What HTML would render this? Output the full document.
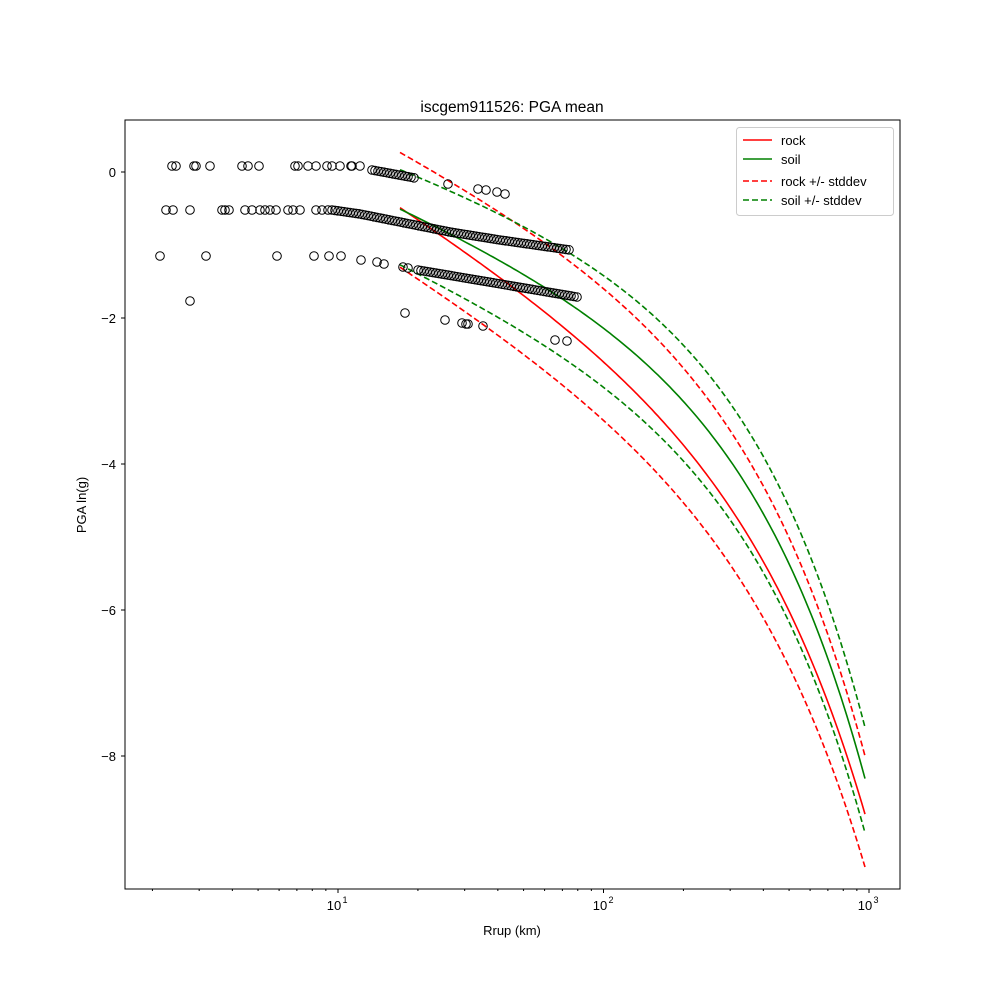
<!DOCTYPE html>
<html><head><meta charset="utf-8"><style>
body{margin:0;background:#fff}
svg{display:block;font-family:"Liberation Sans","DejaVu Sans",sans-serif}
</style></head><body>
<svg id="s" width="1000" height="1000" xmlns="http://www.w3.org/2000/svg">
<rect width="1000" height="1000" fill="#fff"/>
<g id="curves" fill="none" stroke-width="1.6"></g>
<g id="pts" fill="none" stroke="#000" stroke-width="1"></g>
<rect x="125" y="120" width="775" height="769" fill="none" stroke="#000" stroke-width="1"/>
<g id="ticks" stroke="#000"></g>
<g font-size="13" fill="#000">
<text x="512" y="112" text-anchor="middle" font-size="15.5">iscgem911526: PGA mean</text>
<text x="512" y="935" text-anchor="middle">Rrup (km)</text>
<text transform="translate(86,505) rotate(-90)" text-anchor="middle">PGA ln(g)</text>
<g text-anchor="end">
<text x="116" y="177">0</text>
<text x="116" y="323">−2</text>
<text x="116" y="469">−4</text>
<text x="116" y="615">−6</text>
<text x="116" y="761">−8</text>
</g>
<g text-anchor="middle">
<text x="334" y="910">10</text><text x="345" y="903" font-size="9">1</text>
<text x="600" y="910">10</text><text x="611" y="903" font-size="9">2</text>
<text x="865" y="910">10</text><text x="876" y="903" font-size="9">3</text>
</g>
</g>
<g>
<rect x="736.5" y="127.5" width="157" height="88" rx="3" fill="#fff" fill-opacity="0.8" stroke="#ccc"/>
<line x1="743" y1="140" x2="772" y2="140" stroke="#f00" stroke-width="1.6"/>
<line x1="743" y1="159" x2="772" y2="159" stroke="#008000" stroke-width="1.6"/>
<line x1="743" y1="181" x2="772" y2="181" stroke="#f00" stroke-width="1.6" stroke-dasharray="6,3"/>
<line x1="743" y1="200" x2="772" y2="200" stroke="#008000" stroke-width="1.6" stroke-dasharray="6,3"/>
<g font-size="13"><text x="781" y="145">rock</text><text x="781" y="164">soil</text><text x="781" y="186">rock +/- stddev</text><text x="781" y="205">soil +/- stddev</text></g>
</g>
</svg>
<script>
var NS="http://www.w3.org/2000/svg";
function el(p,t,a){var e=document.createElementNS(NS,t);for(var k in a)e.setAttribute(k,a[k]);p.appendChild(e);return e;}
function toR(x){return Math.pow(10,(x-338)/265.5+1);}
function toX(r){return 338+265.5*(Math.log10(r)-1);}
function solve3(A,b){var M=A.map(function(r,i){return r.concat([b[i]]);});
for(var i=0;i<3;i++){var p=i;for(var j=i+1;j<3;j++)if(Math.abs(M[j][i])>Math.abs(M[p][i]))p=j;var t=M[i];M[i]=M[p];M[p]=t;
for(var j=0;j<3;j++)if(j!=i){var f=M[j][i]/M[i][i];for(var k=i;k<4;k++)M[j][k]-=f*M[i][k];}}
return [M[0][3]/M[0][0],M[1][3]/M[1][1],M[2][3]/M[2][2]];}
function fit(P){var A=[[0,0,0],[0,0,0],[0,0,0]],b=[0,0,0];
P.forEach(function(p){var r=toR(p[0]);var f=[1,Math.log(r),r];for(var i=0;i<3;i++){b[i]+=f[i]*p[1];for(var j=0;j<3;j++)A[i][j]+=f[i]*f[j];}});
return solve3(A,b);}
var C=document.getElementById("curves");
var curves=[
["#f00",0,[[400,215],[580,330],[663,410],[730,510],[763,572],[797,638],[865,806]]],
["#008000",0,[[400,218],[513,259],[580,301],[647,368],[713,444],[780,548],[865,776]]],
["#f00",1,[[400,154],[480,202],[580,263],[680,363],[763,491],[813,595],[865,754]]],
["#f00",1,[[402,276],[480,320],[580,391],[663,472],[730,567],[797,700],[865,859]]],
["#008000",1,[[400,178],[480,197],[573,251],[680,339],[763,463],[813,567],[865,723]]],
["#008000",1,[[402,275],[480,306],[580,353],[663,434],[730,529],[797,652],[865,825]]]];
curves.forEach(function(c){var k=fit(c[2]);var d="";
for(var x=400;x<=865.01;x+=3){var r=toR(x);var y=k[0]+k[1]*Math.log(r)+k[2]*r;d+=(d?"L":"M")+x.toFixed(1)+","+y.toFixed(1);}
var a={d:d,stroke:c[0]};if(c[1])a["stroke-dasharray"]="6,3";el(C,"path",a);});
var G=document.getElementById("pts");
function pt(x,y){el(G,"circle",{cx:x,cy:y,r:4.3});}
[172,176,194,196,210,242,248,259,295,298,308,316,327,332,340,351,352,360].forEach(function(x){pt(x,166);});
for(var x=372;x<=415;x+=3)pt(x,170+(x-372)*8/43);
[[448,184],[478,189],[486,190],[497,192],[505,194]].forEach(function(p){pt(p[0],p[1]);});
[166,173,190,222,225,229,245,252,260,265,270,276,288,293,300,316,322,328].forEach(function(x){pt(x,210);});
for(var x=332;x<=570;x+=3){var y=x<360?210+(x-332)*4/28:(x<400?214+(x-360)*8/40:(x<450?222+(x-400)*10/50:(x<500?232+(x-450)*8/50:240+(x-500)*10/70)));pt(x,y);}
[160,206,277,314,329,341].forEach(function(x){pt(x,256);});
[[361,260],[377,262],[384,264],[403,267],[408,268]].forEach(function(p){pt(p[0],p[1]);});
for(var x=418;x<=577;x+=3)pt(x,270+(x-418)*27/159);
[[190,301],[405,313],[445,320],[462,323],[466,324],[468,324],[483,326],[555,340],[567,341]].forEach(function(p){pt(p[0],p[1]);});
var T=document.getElementById("ticks");
[172,318,464,610,756].forEach(function(y){el(T,"line",{x1:121,y1:y,x2:125,y2:y});});
for(var dec=0;dec<4;dec++)for(var m=1;m<10;m++){var x=338+265.5*(Math.log10(m*Math.pow(10,dec))-1);
if(x<125||x>900)continue;var L=m==1?4:2;el(T,"line",{x1:x,y1:889,x2:x,y2:889+L});}
</script>
</body></html>
